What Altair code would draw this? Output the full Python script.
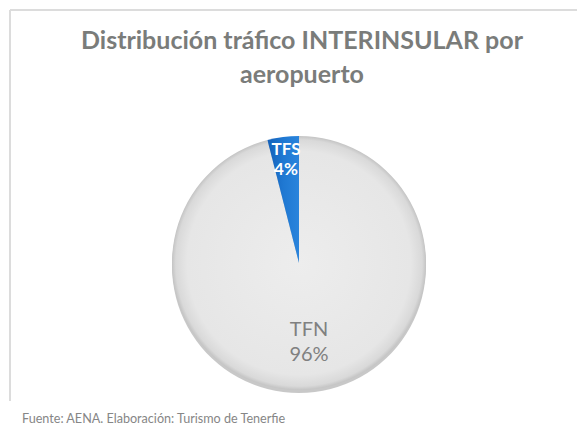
import altair as alt
import pandas as pd

# ---- data ----
airports = ["TFN", "TFS"]
shares = [96, 4]
title_lines = ["Distribución tráfico INTERINSULAR por", "aeropuerto"]
footer_text = "Fuente: AENA. Elaboración: Turismo de Tenerfie"

pie_df = pd.DataFrame({"airport": airports, "share": shares})
pie_df["pct"] = pie_df["share"].astype(str) + "%"
title_df = pd.DataFrame({"t": ["\n".join(title_lines)]})
footer_df = pd.DataFrame({"t": [footer_text]})
one = pd.DataFrame({"k": [0]})

CX, CY, R = 291, 255, 127
FONT = "Lato"
GRAY = "#7a7c7a"

grey_grad = {
    "gradient": "radial",
    "x1": 0.5, "y1": 0.5, "r1": 0,
    "x2": 0.5, "y2": 0.5, "r2": 0.5,
    "stops": [
        {"offset": 0, "color": "#ededed"},
        {"offset": 0.88, "color": "#e6e6e6"},
        {"offset": 0.97, "color": "#d9d9d9"},
        {"offset": 1, "color": "#c4c4c4"},
    ],
}
blue_grad = {
    "gradient": "linear",
    "x1": 0, "y1": 0, "x2": 1, "y2": 0,
    "stops": [
        {"offset": 0, "color": "#1560b8"},
        {"offset": 0.5, "color": "#1f78d2"},
        {"offset": 1, "color": "#2a84dc"},
    ],
}

theta = alt.Theta("share:Q", stack=True)
order = alt.Order("airport:N", sort="ascending")

border_v = alt.Chart(one).mark_rule(color="#dcdcdc", strokeWidth=2).encode(
    x=alt.value(2), y=alt.value(2), y2=alt.value(393)
)
border_h = alt.Chart(one).mark_rule(color="#dcdcdc", strokeWidth=2).encode(
    x=alt.value(2), x2=alt.value(569), y=alt.value(2)
)

shadow = alt.Chart(pie_df).mark_arc(outerRadius=R, color="#9a9a9a", opacity=0.55).encode(
    theta=theta, order=order, x=alt.value(CX), y=alt.value(CY + 3)
)

pie = alt.Chart(pie_df).mark_arc(outerRadius=R).encode(
    theta=theta,
    order=order,
    x=alt.value(CX),
    y=alt.value(CY),
    fill=alt.condition(alt.datum.airport == "TFN", alt.value(grey_grad), alt.value(blue_grad)),
)


def label_layer(field, radius, dy, color, size, weight, show):
    return alt.Chart(pie_df).mark_text(
        radius=radius, dy=dy, font=FONT, fontSize=size, fontWeight=weight,
        color=color, baseline="middle", align="center"
    ).encode(
        theta=theta, order=order, x=alt.value(CX), y=alt.value(CY),
        text=f"{field}:N",
        opacity=alt.condition(alt.datum.airport == show, alt.value(1), alt.value(0)),
    )


labels = [
    label_layer("airport", 104, -10, "white", 17, "bold", "TFS"),
    label_layer("pct", 104, 10, "white", 17, "bold", "TFS"),
    label_layer("airport", 80, -12, "#808080", 20, "normal", "TFN"),
    label_layer("pct", 80, 13, "#808080", 20, "normal", "TFN"),
]

title = alt.Chart(title_df).mark_text(
    font=FONT, fontSize=25, fontWeight="bold", color=GRAY,
    lineBreak="\n", lineHeight=34, baseline="alphabetic", align="center"
).encode(x=alt.value(294), y=alt.value(41), text="t:N")

footer = alt.Chart(footer_df).mark_text(
    font=FONT, fontSize=12.6, color="#868686", baseline="alphabetic", align="left"
).encode(x=alt.value(14), y=alt.value(415), text="t:N")

chart = alt.layer(
    border_v, border_h, shadow, pie, *labels, title, footer
).properties(
    width=569, height=418, autosize=alt.AutoSizeParams(type="none"), padding=0,
    background="white"
).configure_view(stroke=None)

chart.save("out.html", embed_options={"renderer": "svg", "actions": False})
